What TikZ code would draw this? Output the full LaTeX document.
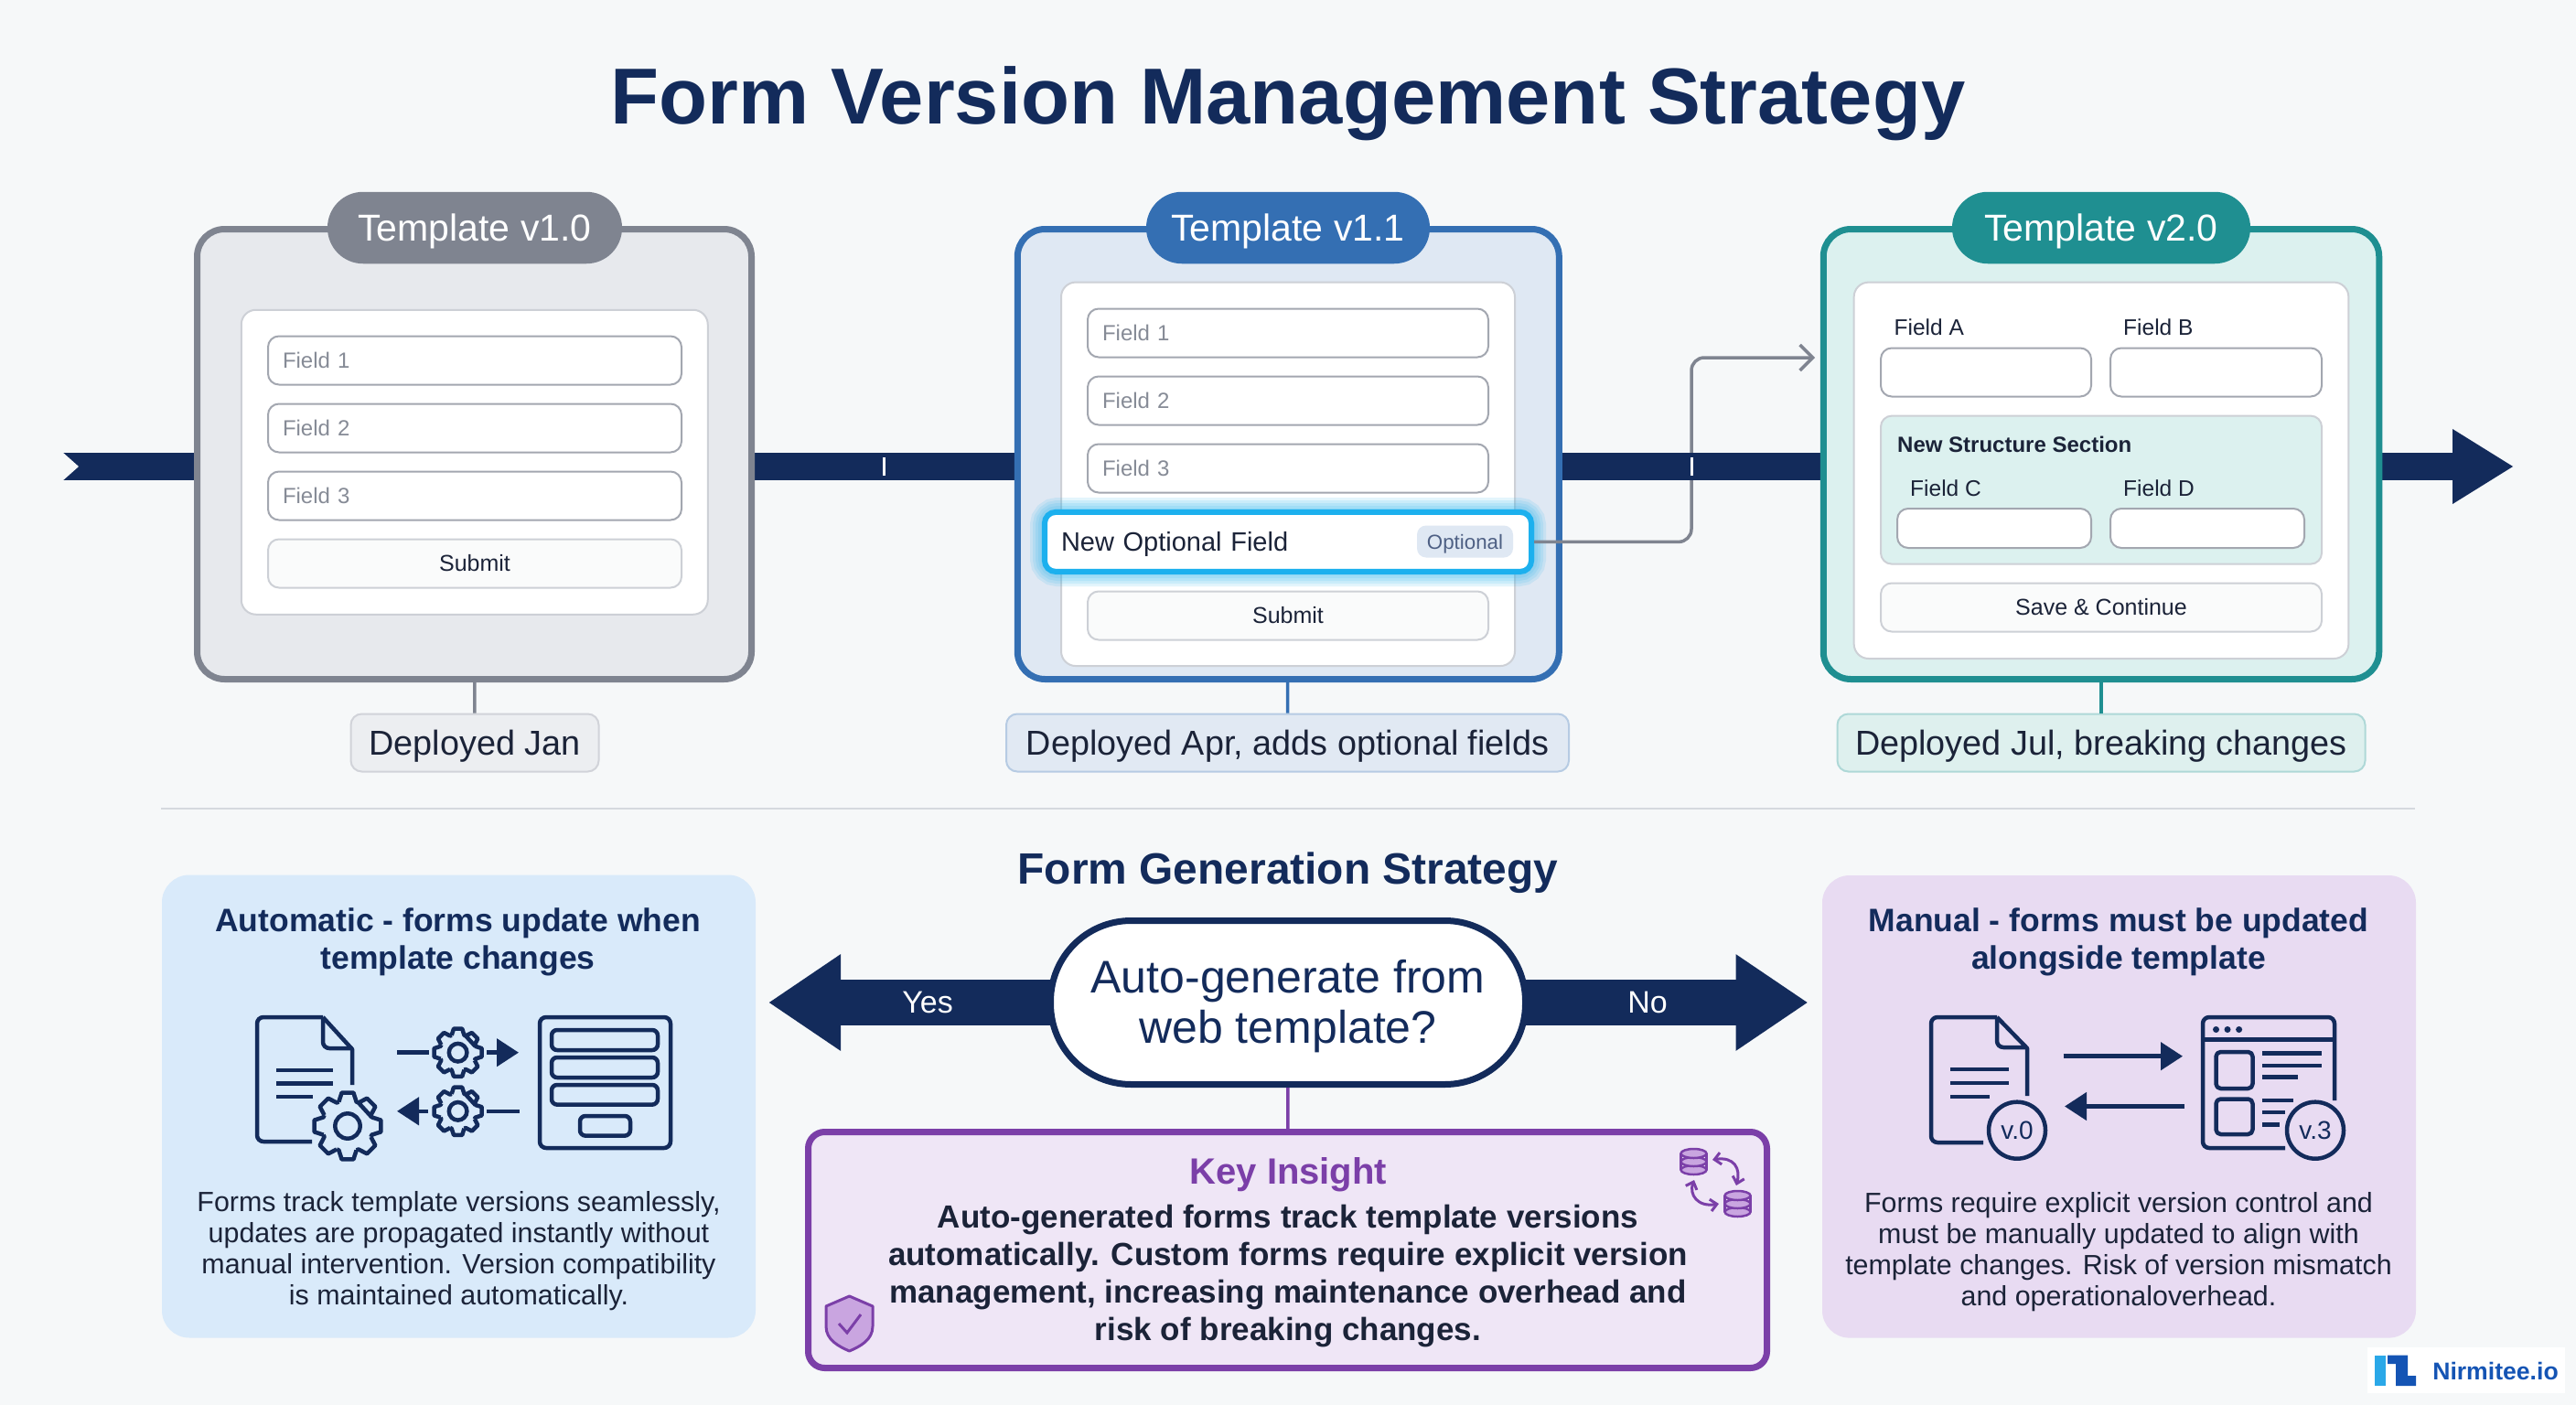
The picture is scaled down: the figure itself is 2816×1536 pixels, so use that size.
\documentclass[tikz,border=0pt]{standalone}
\usepackage{fontspec}
\setmainfont{Liberation Sans}
\usetikzlibrary{arrows.meta}
\definecolor{pagebg}{HTML}{F6F8F9}
\definecolor{navy}{HTML}{132B5B}
\definecolor{inkdark}{HTML}{1B2338}
\definecolor{rulegrey}{HTML}{D5D9DE}
\definecolor{greyline}{HTML}{7F8490}
\definecolor{greyfill}{HTML}{E7E9ED}
\definecolor{greytag}{HTML}{ECEEF1}
\definecolor{blueline}{HTML}{346FB3}
\definecolor{bluefill}{HTML}{DFE8F3}
\definecolor{bluetag}{HTML}{E1E9F3}
\definecolor{tealline}{HTML}{1F8F91}
\definecolor{tealfill}{HTML}{DCF1EF}
\definecolor{tealtag}{HTML}{DEF0EE}
\definecolor{fieldline}{HTML}{A3A7B0}
\definecolor{fieldtext}{HTML}{868B96}
\definecolor{buttonline}{HTML}{CDD0D6}
\definecolor{cyanline}{HTML}{1CB0EE}
\definecolor{autopanel}{HTML}{D9EAFA}
\definecolor{manualpanel}{HTML}{E8DBF2}
\definecolor{purpleline}{HTML}{7B3FA8}
\definecolor{purplefill}{HTML}{EFE6F6}
\definecolor{purplesoft}{HTML}{C9A5E0}
\definecolor{logoblue}{HTML}{1454B4}
\definecolor{logosky}{HTML}{2AA8E8}
\begin{document}
\begin{tikzpicture}[x=1pt, y=-1pt, node distance=74pt,
  card/.style={rectangle, rounded corners=30pt, line width=7pt, draw=#1line, fill=#1fill},
  pill/.style={rectangle, rounded corners=39pt, fill=#1line, minimum height=78.5pt, text depth=0pt, text=white, font=\fontsize{41}{41}\selectfont},
  sheet/.style={rectangle, rounded corners=16pt, draw=buttonline, line width=2pt, fill=white},
  field/.style={rectangle, rounded corners=12pt, draw=fieldline, line width=2pt, fill=white, minimum width=#1, minimum height=53pt, text width=#1-32pt, inner xsep=16pt, align=left, text=fieldtext, font=\fontsize{24}{24}\selectfont},
  emptyfield/.style={rectangle, rounded corners=12pt, draw=fieldline, line width=2pt, fill=white},
  button/.style={rectangle, rounded corners=12pt, draw=buttonline, line width=2pt, fill=pagebg!60!white, minimum height=53pt, text=inkdark, font=\fontsize{25}{25}\selectfont},
  fieldname/.style={anchor=west, inner sep=0pt, text=inkdark, font=\fontsize{24.5}{25}\selectfont},
  tag/.style={rectangle, rounded corners=12pt, draw=#1line!25!#1tag, line width=2pt, fill=#1tag, minimum height=63pt, text depth=0pt, text=inkdark, font=\fontsize{37.8}{38}\selectfont},
  stem/.style={line width=3.5pt, draw=#1line},
  panel/.style={rectangle, rounded corners=30pt, fill=#1},
  heading/.style={align=center, text=navy, font=\bfseries\fontsize{35.5}{41.5}\selectfont},
  bodytext/.style={align=center, text=inkdark, font=\fontsize{30.4}{34}\selectfont},
  icon/.style={line width=4.5pt, draw=navy, line join=round},
  iconline/.style={line width=4.5pt, draw=navy},
  iconarrow/.style={line width=4.5pt, draw=navy, -{Triangle[length=24pt,width=30pt]}},
  badge/.style={circle, draw=navy, line width=4.5pt, fill=manualpanel, minimum size=62pt, inner sep=0pt, text=navy, font=\fontsize{28}{28}\selectfont},
  bigarrow/.style={line width=50pt, draw=navy, -{Triangle[length=79pt,width=100pt]}},
  dbarrow/.style={line width=3pt, draw=purpleline, {Straight Barb[length=7pt,width=13pt]}-{Straight Barb[length=7pt,width=13pt]}},
  cog/.pic={
    \draw[line width=4.5pt, draw=navy, line join=round]
      \foreach \a in {0,45,...,315} {(\a-20:.76) -- (\a-10:1) -- (\a+10:1) -- (\a+20:.76) -- (\a+25:.76)} -- cycle;
    \draw[line width=4.5pt, draw=navy] (0,0) circle (.37);
  },
  drum/.pic={
    \foreach \d in {9,0,-9} {
      \draw[line width=2.5pt, draw=purpleline, fill=purplesoft] (0,\d) ellipse [x radius=14, y radius=5];
    }
    \draw[line width=2.5pt, draw=purpleline] (-14,-9) -- (-14,9) (14,-9) -- (14,9);
  }]
\useasboundingbox (0,0) rectangle (2816,1536);
\fill[pagebg] (0,0) rectangle (2816,1536);

\node (title) at (1408,113) [text=navy, font=\bfseries\fontsize{86.8}{87}\selectfont] {Form Version Management Strategy};

\coordinate (timestart) at (69,510);
\coordinate (timeend) at (2748,510);
\draw[line width=30pt, draw=navy, -{Triangle[length=67pt,width=77pt]}] (timestart) -- (timeend);
\fill[pagebg] (68,494) -- (86,510) -- (68,526) -- cycle;

\node (carda) at (518.5,496.5) [card=grey, minimum width=606pt, minimum height=492pt] {};
\node (pilla) at (519,249) [pill=grey, minimum width=322pt] {Template v1.0};
\node (sheeta) at (518.75,505.25) [sheet, minimum width=510pt, minimum height=333pt] {};
\node (fielda1) at (519,394) [field=452pt] {Field 1};
\node (fielda2) [field=452pt, below of=fielda1] {Field 2};
\node (fielda3) [field=452pt, below of=fielda2] {Field 3};
\node (submita) [button, minimum width=452pt, below of=fielda3] {Submit};
\node (tagc1) at (519,812) [tag=grey, minimum width=271pt] {Deployed Jan};
\draw[stem=grey] (carda) to (tagc1);

\node (cardb) at (1408.3,496.5) [card=blue, minimum width=592pt, minimum height=492pt] {};
\node (pillb) at (1408,249) [pill=blue, minimum width=310pt] {Template v1.1};
\node (sheetb) at (1408,518.3) [sheet, minimum width=496pt, minimum height=419.5pt] {};
\node (fieldb1) at (1408,364) [field=438pt] {Field 1};
\node (fieldb2) [field=438pt, below of=fieldb1] {Field 2};
\node (fieldb3) [field=438pt, below of=fieldb2] {Field 3};
\node (submitb) at (1408,673) [button, minimum width=438pt] {Submit};
\coordinate (glowa) at (1144,562);
\coordinate (glowb) at (1672,623);
\foreach \g in {36,30,24,18,12} {
  \draw[line width=\g pt, draw=cyanline, opacity=.12, rounded corners=12pt] (glowa) rectangle (glowb);
}
\node (newfield) at (1408,592.4) [rectangle, rounded corners=12pt, draw=cyanline, line width=6pt, fill=white, minimum width=532pt, minimum height=65pt, text width=496pt, inner xsep=18pt, align=left, text depth=0pt, text=inkdark, font=\fontsize{29}{29}\selectfont] {New Optional Field};
\node (optional) at (1601.5,592) [rectangle, rounded corners=10pt, fill=bluefill, minimum width=105pt, minimum height=35pt, inner sep=0pt, text depth=0pt, text=navy!75!white, font=\fontsize{22.3}{23}\selectfont] {Optional};
\node (tagb) at (1407.5,812) [tag=blue, minimum width=615pt] {Deployed Apr, adds optional fields};
\draw[stem=blue] (cardb) to (tagb);

\node (cardc) at (2297,496.5) [card=teal, minimum width=607.5pt, minimum height=492pt] {};
\node (pillc) at (2297,249) [pill=teal, minimum width=326pt] {Template v2.0};
\node (sheetc) at (2297,514.3) [sheet, minimum width=540.7pt, minimum height=411.4pt] {};
\node (namea) at (2070.4,358) [fieldname] {Field A};
\node (nameb) at (2321,358) [fieldname] {Field B};
\node (boxa) at (2171,407) [emptyfield, minimum width=230pt, minimum height=53pt] {};
\node (boxb) at (2422.5,407) [emptyfield, minimum width=231pt, minimum height=53pt] {};
\node (section) at (2297,535.6) [rectangle, rounded corners=12pt, draw=buttonline, line width=2pt, fill=tealfill, minimum width=482pt, minimum height=162pt] {};
\node (sectionname) at (2074,486) [fieldname, font=\bfseries\fontsize{24}{25}\selectfont] {New Structure Section};
\node (namec) at (2088,534) [fieldname] {Field C};
\node (named) at (2321,534) [fieldname] {Field D};
\node (boxc) at (2180,577.5) [emptyfield, minimum width=212pt, minimum height=43pt] {};
\node (boxd) at (2413,577.5) [emptyfield, minimum width=212pt, minimum height=43pt] {};
\node (savebutton) at (2297,664) [button, minimum width=482pt] {Save \& Continue};
\node (tagc) at (2297,812) [tag=teal, minimum width=577pt] {Deployed Jul, breaking changes};
\draw[stem=teal] (cardc) to (tagc);

\coordinate (carryend) at (1984,391);
\draw[line width=3.5pt, draw=greyline, rounded corners=14pt, -{Straight Barb[length=14pt,width=28pt]}] (newfield.east) -- ++(172,0) |- (carryend);
\fill[navy] (1838,495) rectangle (1860,525);
\fill[white] (1848,499.5) rectangle (1851,520);
\fill[white] (965,499.5) rectangle (968,520);

\draw[line width=2pt, draw=rulegrey] (176,884) -- (2640,884);

\node (strategy) at (1408,954) [text=navy, font=\bfseries\fontsize{47.9}{48}\selectfont] {Form Generation Strategy};

\node (autopanel) at (501.5,1209.5) [panel=autopanel, minimum width=649pt, minimum height=506pt] {};
\node (autotitle) at (500.6,1030) [heading] {Automatic - forms update when\\template changes};
\node (autotext) at (501.5,1368) [bodytext] {Forms track template versions seamlessly,\\updates are propagated instantly without\\manual intervention. Version compatibility\\is maintained automatically.};

\draw[icon, rounded corners=7pt] (341,1248) -- (281,1248) -- (281,1112) -- (353,1112);
\draw[icon] (353,1112) -- (385,1147) -- (385,1186);
\draw[icon, rounded corners=7pt] (353,1112) -- (353,1146) -- (385,1146);
\draw[iconline] (302,1170) -- (364,1170) (302,1184.5) -- (364,1184.5) (302,1199) -- (342,1199);
\pic[scale=37] (coga) at (380,1231) {cog};
\pic[scale=26.5] (cogb) at (500.6,1150.7) {cog};
\pic[scale=26.5] (cogc) at (500.6,1214.8) {cog};
\draw[iconline] (434,1150.7) -- (469,1150.7);
\draw[iconline, -{Triangle[length=24pt,width=30pt]}] (532,1150.7) -- (567,1150.7);
\draw[iconline] (532,1214.8) -- (568,1214.8);
\draw[iconline, -{Triangle[length=24pt,width=30pt]}] (468,1214.8) -- (434,1214.8);
\draw[icon, rounded corners=7pt] (590,1112) rectangle (733,1255);
\draw[icon, rounded corners=6pt] (603,1126) rectangle (719,1148);
\draw[icon, rounded corners=6pt] (603,1156) rectangle (719,1178);
\draw[icon, rounded corners=6pt] (603,1186) rectangle (719,1207.6);
\draw[icon, rounded corners=6pt] (634,1220) rectangle (689,1241.6);

\coordinate (yesend) at (840,1096);
\coordinate (noend) at (1976.5,1096);
\draw[bigarrow] (1408,1096) -- (yesend);
\draw[bigarrow] (1408,1096) -- (noend);
\node (yes) at (1014,1096) [text=white, font=\fontsize{34}{34}\selectfont] {Yes};
\node (no) at (1801,1096) [text=white, font=\fontsize{34}{34}\selectfont] {No};
\node (question) at (1408,1096) [rectangle, rounded corners=88pt, draw=navy, line width=7pt, fill=white, minimum width=519pt, minimum height=179pt, align=center, text=navy, font=\fontsize{50}{54.6}\selectfont] {\rule{0pt}{44pt}Auto-generate from\\web template?};

\node (insight) at (1407.5,1366.5) [rectangle, rounded corners=18pt, draw=purpleline, line width=7pt, fill=purplefill, minimum width=1048pt, minimum height=258pt] {};
\draw[line width=3.5pt, draw=purpleline] (question) to (insight);
\node (insighttitle) at (1408.4,1284) [text=purpleline, font=\bfseries\fontsize{40}{40}\selectfont] {Key Insight};
\node (insighttext) at (1408,1395) [align=center, text=inkdark, font=\bfseries\fontsize{35}{41}\selectfont] {Auto-generated forms track template versions\\automatically. Custom forms require explicit version\\management, increasing maintenance overhead and\\risk of breaking changes.};
\draw[line width=3pt, draw=purpleline, fill=purplesoft, line join=round] (928.5,1417) -- (954,1428) -- (954,1450) .. controls (954,1465) and (940,1472) .. (928.5,1477) .. controls (917,1472) and (903,1465) .. (903,1450) -- (903,1428) -- cycle;
\draw[line width=3pt, draw=purpleline] (917,1447) -- (926,1457) -- (941,1437);
\pic (drumtop) at (1851.5,1270) {drum};
\pic (drumlow) at (1899.5,1316) {drum};
\draw[dbarrow] (1872,1268) .. controls (1896,1264) and (1903,1278) .. (1898,1296);
\draw[dbarrow] (1852,1290) .. controls (1846,1306) and (1856,1320) .. (1879,1316);

\node (manualpanel) at (2316.5,1209.8) [panel=manualpanel, minimum width=649pt, minimum height=505.6pt] {};
\node (manualtitle) at (2316,1030) [heading] {Manual - forms must be updated\\alongside template};
\node (manualtext) at (2316,1369) [bodytext] {Forms require explicit version control and\\must be manually updated to align with\\template changes. Risk of version mismatch\\and operationaloverhead.};

\draw[icon, rounded corners=7pt] (2168,1249) -- (2111,1249) -- (2111,1112) -- (2183,1112);
\draw[icon] (2183,1112) -- (2216,1146) -- (2216,1198);
\draw[icon, rounded corners=7pt] (2183,1112) -- (2183,1145) -- (2216,1145);
\draw[iconline] (2132,1169) -- (2196,1169) (2132,1184) -- (2196,1184) (2132,1199) -- (2174.6,1199);
\node (badgea) at (2205,1235.7) [badge] {v.0};
\draw[icon, rounded corners=7pt] (2498,1255) -- (2408,1255) -- (2408,1112) -- (2552,1112) -- (2552,1203);
\draw[iconline] (2408,1136.5) -- (2552,1136.5);
\foreach \d in {2422.5,2435,2447.6} {
  \fill[navy] (\d,1125.5) circle (3.5);
}
\draw[icon, rounded corners=5pt] (2422.5,1150) rectangle (2462.5,1190);
\draw[icon, rounded corners=5pt] (2422.5,1201.5) rectangle (2462.5,1240);
\draw[iconline] (2473,1151.7) -- (2538,1151.7) (2473,1165) -- (2538,1165) (2473,1177.5) -- (2512,1177.5) (2473,1203) -- (2507,1203) (2473,1216) -- (2498,1216) (2473,1229.6) -- (2492,1229.6);
\node (badgeb) at (2531,1235.7) [badge] {v.3};
\draw[iconarrow] (2255.6,1154.7) -- (2386,1154.7);
\draw[iconarrow] (2388,1209.5) -- (2257,1209.5);

\node (logobox) at (2696,1498.2) [rectangle, fill=white, minimum width=216pt, minimum height=50.4pt] {};
\fill[logosky] (2596,1481.6) rectangle (2607.5,1515);
\fill[logoblue] (2610,1481.6) -- (2632,1481.6) -- (2632,1504) -- (2641,1504) -- (2641,1515) -- (2619,1515) -- (2619,1491) -- (2610,1491) -- cycle;
\node (logotext) at (2728,1498.7) [text=logoblue, font=\bfseries\fontsize{26.6}{27}\selectfont] {Nirmitee.io};
\end{tikzpicture}
\end{document}
